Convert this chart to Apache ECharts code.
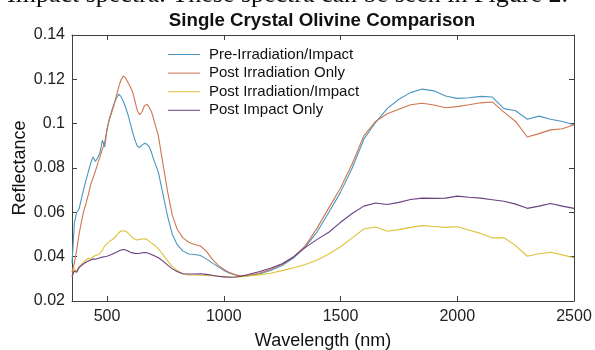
<!DOCTYPE html>
<html>
<head>
<meta charset="utf-8">
<script src="https://cdn.jsdelivr.net/npm/echarts@6/dist/echarts.min.js"></script>
<style>html,body{margin:0;padding:0;background:#fff}#c{width:595px;height:350px}</style>
</head>
<body>
<div id="c"></div>
<script>
var wavelengths = [350,360,370,380,390,400,410,420,430,440,450,460,470,480,490,500,510,520,530,540,550,560,570,580,590,600,610,620,630,640,650,660,670,680,690,700,720,740,760,780,800,825,850,875,900,925,950,975,1000,1025,1050,1075,1100,1150,1200,1250,1300,1350,1400,1450,1500,1550,1600,1650,1700,1750,1800,1850,1900,1950,2000,2050,2100,2150,2200,2250,2300,2350,2400,2450,2500];

var preIrrImpact = [0.037,0.055,0.060,0.0615,0.066,0.0705,0.0745,0.0783,0.0821,0.0850,0.0830,0.0845,0.0870,0.0925,0.0895,0.0972,0.1020,0.1058,0.1090,0.1115,0.1133,0.1122,0.1100,0.1072,0.1040,0.1000,0.0960,0.0925,0.0898,0.0893,0.0903,0.0911,0.0908,0.0897,0.0872,0.0838,0.0780,0.0680,0.0580,0.0500,0.0455,0.0425,0.0412,0.0410,0.0405,0.0390,0.0372,0.0355,0.0338,0.0325,0.0317,0.0312,0.0313,0.0322,0.0338,0.0360,0.0395,0.0445,0.0512,0.0600,0.0690,0.0800,0.0930,0.1005,0.1068,0.1110,0.1140,0.1156,0.1148,0.1125,0.1114,0.1117,0.1123,0.1120,0.1068,0.1058,0.1020,0.1034,0.1020,0.1010,0.0995];

var postIrrOnly = [0.033,0.037,0.043,0.050,0.0555,0.0605,0.0640,0.0680,0.0725,0.0755,0.0785,0.0820,0.0850,0.0885,0.0915,0.0975,0.1020,0.1050,0.1085,0.1125,0.1165,0.1198,0.1216,0.1205,0.1185,0.1165,0.1142,0.1100,0.1058,0.1040,0.1055,0.1080,0.1088,0.1075,0.1055,0.1020,0.0945,0.0815,0.0690,0.0585,0.0525,0.0485,0.0465,0.0455,0.0448,0.0425,0.0390,0.0362,0.0343,0.0328,0.0318,0.0314,0.0315,0.0325,0.0342,0.0366,0.0400,0.0450,0.0530,0.0620,0.0710,0.0819,0.0945,0.1010,0.1045,0.1065,0.1085,0.1092,0.1084,0.1072,0.1077,0.1085,0.1094,0.1098,0.1052,0.1010,0.0940,0.0955,0.0972,0.0977,0.0995];

var postIrrImpact = [0.031,0.0345,0.0335,0.0355,0.0365,0.0375,0.0385,0.0393,0.0390,0.0400,0.0405,0.0408,0.0415,0.0430,0.0448,0.0460,0.0468,0.0475,0.0483,0.0495,0.0508,0.0516,0.0517,0.0515,0.0508,0.0495,0.0485,0.0478,0.0475,0.0478,0.0480,0.0481,0.0478,0.0470,0.0462,0.0455,0.0435,0.0408,0.0380,0.0355,0.0338,0.0322,0.0318,0.0317,0.0316,0.0315,0.0314,0.0312,0.0310,0.0308,0.0308,0.0310,0.0312,0.0318,0.0325,0.0337,0.0350,0.0365,0.0385,0.0412,0.0445,0.0485,0.0525,0.0534,0.0515,0.0522,0.0532,0.0540,0.0536,0.0532,0.0535,0.0520,0.0505,0.0485,0.0485,0.0450,0.0402,0.0413,0.0420,0.0408,0.0395];

var postImpactOnly = [0.031,0.0335,0.0330,0.0350,0.0360,0.0368,0.0375,0.0380,0.0385,0.0390,0.0388,0.0392,0.0395,0.0398,0.0400,0.0402,0.0406,0.0410,0.0415,0.0420,0.0426,0.0430,0.0432,0.0430,0.0426,0.0420,0.0417,0.0415,0.0414,0.0415,0.0418,0.0419,0.0418,0.0414,0.0410,0.0405,0.0395,0.0380,0.0362,0.0345,0.0333,0.0323,0.0322,0.0322,0.0323,0.0320,0.0316,0.0312,0.0309,0.0307,0.0308,0.0312,0.0318,0.0332,0.0348,0.0368,0.0400,0.0442,0.0478,0.0510,0.0555,0.0595,0.0628,0.0642,0.0635,0.0645,0.0658,0.0664,0.0663,0.0664,0.0673,0.0668,0.0664,0.0657,0.0650,0.0637,0.0618,0.0628,0.0640,0.0628,0.0618];

var seriesNames = ['Pre-Irradiation/Impact','Post Irradiation Only','Post Irradiation/Impact','Post Impact Only'];
var seriesValues = [preIrrImpact, postIrrOnly, postIrrImpact, postImpactOnly];
var seriesColors = ['#4a96bf','#cf7550','#dcc23a','#6b3f83'];
var xTicks = [500,1000,1500,2000,2500];

var chart = echarts.init(document.getElementById('c'), null, {renderer:'canvas'});
var axisCol = '#404040';
var series = seriesNames.map(function(n, k){
  return {
    name: n, type: 'line', xAxisIndex: 0, yAxisIndex: 0,
    showSymbol: false, symbol: 'none', smooth: false, animation: false,
    lineStyle: {width: 1.1, color: seriesColors[k]},
    itemStyle: {color: seriesColors[k]},
    data: wavelengths.map(function(w, i){ return [w, seriesValues[k][i]]; })
  };
});
var option = {
  animation: false,
  grid: {left: 72, right: 21, top: 35, bottom: 49, show: false, containLabel: false, outerBoundsMode: 'none'},
  graphic: [
    {type:'text', x: 7, y: -5, style:{text:'Impact spectra. These spectra can be seen in Figure 2.', font:'26px "Liberation Serif"', fill:'#111', verticalAlign:'middle'}},
    {type:'text', x: 322, y: 21, style:{text:'Single Crystal Olivine Comparison', font:'bold 18.7px "Liberation Sans"', fill:'#111', align:'center', verticalAlign:'middle'}}
  ],
  legend: {
    orient: 'vertical', left: 168, top: 47, padding: 0, itemWidth: 32, itemHeight: 1, itemGap: 3.6, icon: 'rect',
    textStyle: {fontFamily: 'Liberation Sans', fontSize: 15, color: '#111', padding: [0,0,0,4]},
    data: seriesNames
  },
  xAxis: [
    {type:'value', min:350, max:2500, position:'bottom',
     name:'Wavelength (nm)', nameLocation:'middle', nameGap:31, nameMoveOverlap:false,
     nameTextStyle:{fontFamily:'Liberation Sans', fontSize:18, color:'#111'},
     axisLine:{show:true, onZero:false, lineStyle:{color:axisCol, width:1}},
     axisTick:{show:true, inside:true, length:5, customValues:xTicks, lineStyle:{color:axisCol}},
     axisLabel:{show:true, customValues:xTicks, margin:8, fontFamily:'Liberation Sans', fontSize:16, color:'#222', formatter:function(v){return String(v);}},
     splitLine:{show:false}},
    {type:'value', min:350, max:2500, position:'top',
     axisLine:{show:true, onZero:false, lineStyle:{color:axisCol, width:1}},
     axisTick:{show:true, inside:true, length:5, customValues:xTicks, lineStyle:{color:axisCol}},
     axisLabel:{show:false}, splitLine:{show:false}}
  ],
  yAxis: [
    {type:'value', min:0.02, max:0.14, interval:0.02, position:'left',
     name:'Reflectance', nameLocation:'middle', nameGap:43, nameMoveOverlap:false,
     nameTextStyle:{fontFamily:'Liberation Sans', fontSize:18, color:'#111'},
     axisLine:{show:true, onZero:false, lineStyle:{color:axisCol, width:1}},
     axisTick:{show:true, inside:true, length:5, lineStyle:{color:axisCol}},
     axisLabel:{show:true, margin:7, fontFamily:'Liberation Sans', fontSize:16, color:'#222'},
     splitLine:{show:false}},
    {type:'value', min:0.02, max:0.14, interval:0.02, position:'right',
     axisLine:{show:true, onZero:false, lineStyle:{color:axisCol, width:1}},
     axisTick:{show:true, inside:true, length:5, lineStyle:{color:axisCol}},
     axisLabel:{show:false}, splitLine:{show:false}}
  ],
  series: series
};
chart.setOption(option);
</script>
</body>
</html>
